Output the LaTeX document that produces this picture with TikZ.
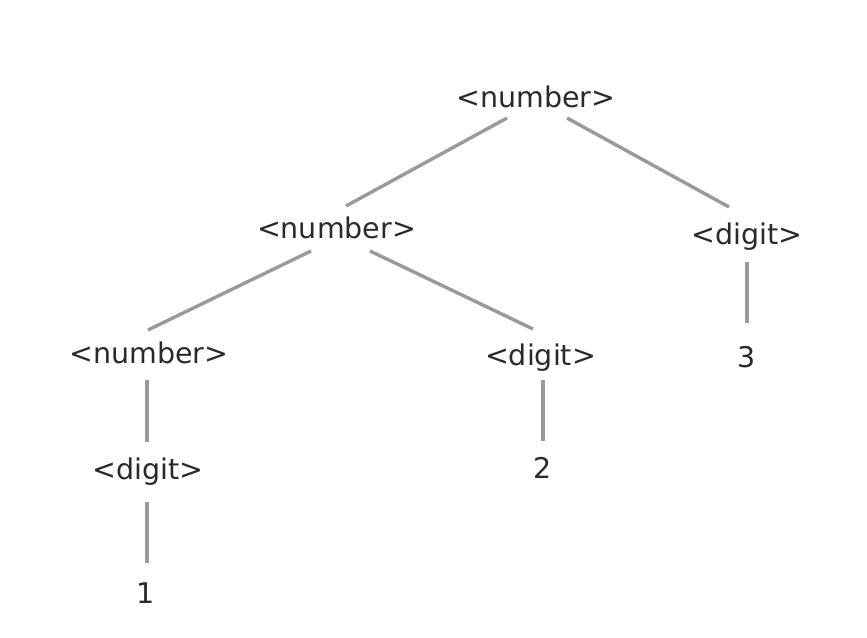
\documentclass[tikz,border=0pt]{standalone}
\usepackage{fontspec}
\setmainfont{DejaVu Sans}
\usetikzlibrary{calc}
\definecolor{edgegray}{HTML}{9A9A9A}
\definecolor{textgray}{HTML}{2A2A2A}
\begin{document}
\begin{tikzpicture}[x=1pt,y=-1pt,
  lbl/.style={anchor=base,inner sep=0pt,text=textgray,font=\fontsize{28.5}{34}\selectfont},
  edge/.style={draw=edgegray,line width=3.4pt}]
\useasboundingbox[fill=white] (0,0) rectangle (867,637);
\node[lbl] (top)  at (536,107)   {<number>};
\node[lbl] (mid)  at (336.5,238) {<number>};
\node[lbl] (digR) at (747,244)   {<digit>};
\node[lbl] (numL) at (149,363)   {<number>};
\node[lbl] (digM) at (540.5,365) {<digit>};
\node[lbl] (three) at (747,367)  {3};
\node[lbl] (digL) at (148,479)   {<digit>};
\node[lbl] (two)  at (542.5,478) {2};
\node[lbl] (one)  at (146,603)   {1};
\draw[edge] ($(top.base)+(-29,11)$) -- ($(mid.base)+(9.5,-32)$);
\draw[edge] ($(top.base)+(31,11)$) -- ($(digR.base)+(-18,-37)$);
\draw[edge] ($(mid.base)+(-25.5,13)$) -- ($(numL.base)+(-1,-33)$);
\draw[edge] ($(mid.base)+(33.5,13)$) -- ($(digM.base)+(-7.5,-36)$);
\draw[edge] ($(digR.base)+(0,18)$) -- ($(three.base)+(0,-44)$);
\draw[edge] ($(numL.base)+(-2,17)$) -- ($(digL.base)+(-1,-37)$);
\draw[edge] ($(digL.base)+(-1,23)$) -- ($(one.base)+(1,-40)$);
\draw[edge] ($(digM.base)+(2.5,15)$) -- ($(two.base)+(0.5,-37)$);
\end{tikzpicture}
\end{document}
